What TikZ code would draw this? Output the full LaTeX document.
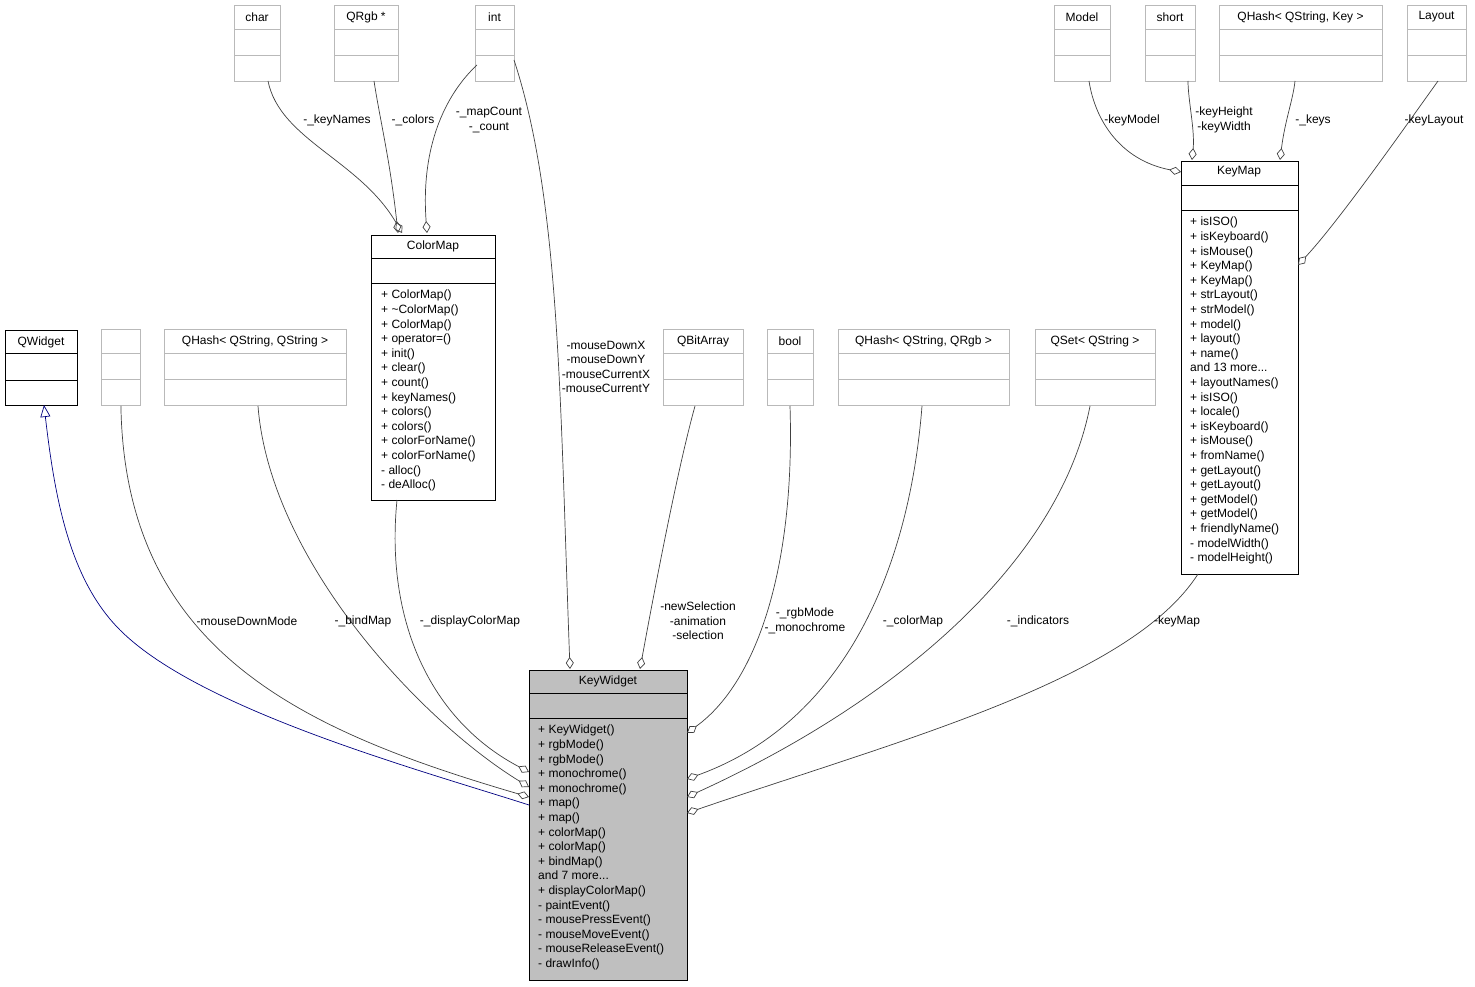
\documentclass[tikz,border=0pt]{standalone}
\usepackage{fontspec}
\setmainfont{Liberation Sans}
\usetikzlibrary{arrows.meta}
\begin{document}
\begin{tikzpicture}[x=1pt,y=-1pt,
  cls/.style={draw=black,line width=0.8pt,fill=#1,anchor=north west,inner sep=0pt},
  cls/.default=white,
  ext/.style={draw=gray!55,line width=0.8pt,anchor=north west,inner sep=0pt},
  txt/.style={font=\fontsize{12}{14.6}\selectfont,inner sep=0pt},
  lst/.style={txt,anchor=north west,align=left},
  lbl/.style={txt,align=center,fill=white,fill opacity=0,text opacity=1},
  agg/.style={draw=black!75,line width=0.7pt,{Diamond[open,length=12pt,width=8pt]}-},
  inh/.style={draw=blue!50!black,line width=0.7pt,{Triangle[open,length=12pt,width=10pt]}-}]
\useasboundingbox (0,0) rectangle (1475,987);
% external gray boxes
\newcommand{\extbox}[5]{% name,x1,y1,x2,label
  \node[ext,minimum width=#4-#2,minimum height=76] (#1) at (#2,#3) {};
  \draw[gray!55,line width=0.8pt] (#2,#3+24) -- (#4,#3+24) (#2,#3+50) -- (#4,#3+50);
  \node[txt,anchor=center] (#1t) at ({(#2+#4)/2},#3+12) {#5};}
\extbox{chr}{234}{5}{280}{char}
\extbox{qrgb}{334}{5}{398}{QRgb *}
\extbox{int}{475}{5}{514}{int}
\extbox{model}{1054}{5}{1110}{Model}
\extbox{short}{1145}{5}{1195}{short}
\extbox{qhk}{1219}{5}{1382}{QHash< QString, Key >}
\extbox{lay}{1407}{5}{1466}{Layout}
\extbox{unk}{101}{329}{140}{}
\extbox{qhs}{164}{329}{346}{QHash< QString, QString >}
\extbox{qba}{663}{329}{743}{QBitArray}
\extbox{boo}{767}{329}{813}{bool}
\extbox{qhr}{838}{329}{1009}{QHash< QString, QRgb >}
\extbox{qset}{1035}{329}{1155}{QSet< QString >}
% QWidget
\node[cls,minimum width=72,minimum height=75] (qw) at (5,330) {};
\draw[line width=0.8pt] (5,353)--(77,353) (5,380)--(77,380);
\node[txt] (qwt) at (41,342) {QWidget};
% ColorMap
\node[cls,minimum width=124,minimum height=265] (cm) at (371,235) {};
\draw[line width=0.8pt] (371,258)--(495,258) (371,283)--(495,283);
\node[txt] (cmt) at (433,246) {ColorMap};
\node[lst] (cml) at (381,290) {+ ColorMap()\\+ \textasciitilde ColorMap()\\+ ColorMap()\\+ operator=()\\+ init()\\+ clear()\\+ count()\\+ keyNames()\\+ colors()\\+ colors()\\+ colorForName()\\+ colorForName()\\- alloc()\\- deAlloc()};
% KeyMap
\node[cls,minimum width=117,minimum height=413] (km) at (1181,161) {};
\draw[line width=0.8pt] (1181,185)--(1298,185) (1181,210)--(1298,210);
\node[txt] (kmt) at (1239,172) {KeyMap};
\node[lst] (kml) at (1190,217) {+ isISO()\\+ isKeyboard()\\+ isMouse()\\+ KeyMap()\\+ KeyMap()\\+ strLayout()\\+ strModel()\\+ model()\\+ layout()\\+ name()\\and 13 more...\\+ layoutNames()\\+ isISO()\\+ locale()\\+ isKeyboard()\\+ isMouse()\\+ fromName()\\+ getLayout()\\+ getLayout()\\+ getModel()\\+ getModel()\\+ friendlyName()\\- modelWidth()\\- modelHeight()};
% KeyWidget
\node[cls=gray!50,minimum width=158,minimum height=310] (kw) at (529,670) {};
\draw[line width=0.8pt] (529,693)--(687,693) (529,718)--(687,718);
\node[txt] (kwt) at (608,681) {KeyWidget};
\node[lst] (kwl) at (538,725) {+ KeyWidget()\\+ rgbMode()\\+ rgbMode()\\+ monochrome()\\+ monochrome()\\+ map()\\+ map()\\+ colorMap()\\+ colorMap()\\+ bindMap()\\and 7 more...\\+ displayColorMap()\\- paintEvent()\\- mousePressEvent()\\- mouseMoveEvent()\\- mouseReleaseEvent()\\- drawInfo()};
% coordinates on KeyWidget
\coordinate (k1) at (529,805);
\coordinate (k2) at (529,797);
\coordinate (k3) at (529,787);
\coordinate (k4) at (529,772);
\coordinate (k5) at (570,669);
\coordinate (k6) at (640,669);
\coordinate (k7) at (687,733);
\coordinate (k8) at (687,779);
\coordinate (k9) at (687,797);
\coordinate (k10) at (687,813);
% edges into KeyWidget
\draw[inh] (44,405) .. controls (55,500) and (70,580) .. (120,630) .. controls (200,710) and (420,770) .. (k1);
\draw[agg] (k2) .. controls (300,730) and (125,650) .. (unk.south);
\draw[agg] (k3) .. controls (420,720) and (270,560) .. (258,406);
\draw[agg] (k4) .. controls (430,720) and (385,620) .. (397,500);
\draw[agg] (k5) .. controls (560,400) and (560,200) .. (514,60);
\draw[agg] (k6) .. controls (660,560) and (680,460) .. (695,406);
\draw[agg] (k7) .. controls (760,680) and (795,560) .. (790,406);
\draw[agg] (k8) .. controls (850,720) and (910,560) .. (922,406);
\draw[agg] (k9) .. controls (900,700) and (1060,560) .. (1090,406);
\draw[agg] (k10) .. controls (900,740) and (1130,680) .. (1198,574);
% edges into ColorMap
\draw[agg] (402,233) .. controls (360,160) and (280,140) .. (268,81);
\draw[agg] (398,233) .. controls (390,160) and (380,120) .. (374,81);
\draw[agg] (427,233) .. controls (420,140) and (450,90) .. (477,65);
% edges into KeyMap
\draw[agg] (1181,172) .. controls (1120,160) and (1095,120) .. (1089,81);
\draw[agg] (1192,160) .. controls (1195,130) and (1188,100) .. (1188,81);
\draw[agg] (1280,160) .. controls (1285,120) and (1293,100) .. (1295,81);
\draw[agg] (1298,265) .. controls (1340,220) and (1410,120) .. (1438,81);
% labels
\node[lbl] (l1) at (247,621) {-mouseDownMode};
\node[lbl] (l2) at (363,621) {-\_bindMap};
\node[lbl] (l3) at (470,621) {-\_displayColorMap};
\node[lbl] (l4) at (606,367) {-mouseDownX\\-mouseDownY\\-mouseCurrentX\\-mouseCurrentY};
\node[lbl] (l5) at (698,621) {-newSelection\\-animation\\-selection};
\node[lbl] (l6) at (805,621) {-\_rgbMode\\-\_monochrome};
\node[lbl] (l7) at (913,621) {-\_colorMap};
\node[lbl] (l8) at (1038,621) {-\_indicators};
\node[lbl] (l9) at (1177,621) {-keyMap};
\node[lbl] (l10) at (337,120) {-\_keyNames};
\node[lbl] (l11) at (413,120) {-\_colors};
\node[lbl] (l12) at (489,120) {-\_mapCount\\-\_count};
\node[lbl] (l13) at (1132,120) {-keyModel};
\node[lbl] (l14) at (1224,120) {-keyHeight\\-keyWidth};
\node[lbl] (l15) at (1313,120) {-\_keys};
\node[lbl] (l16) at (1434,120) {-keyLayout};
\end{tikzpicture}
\end{document}
